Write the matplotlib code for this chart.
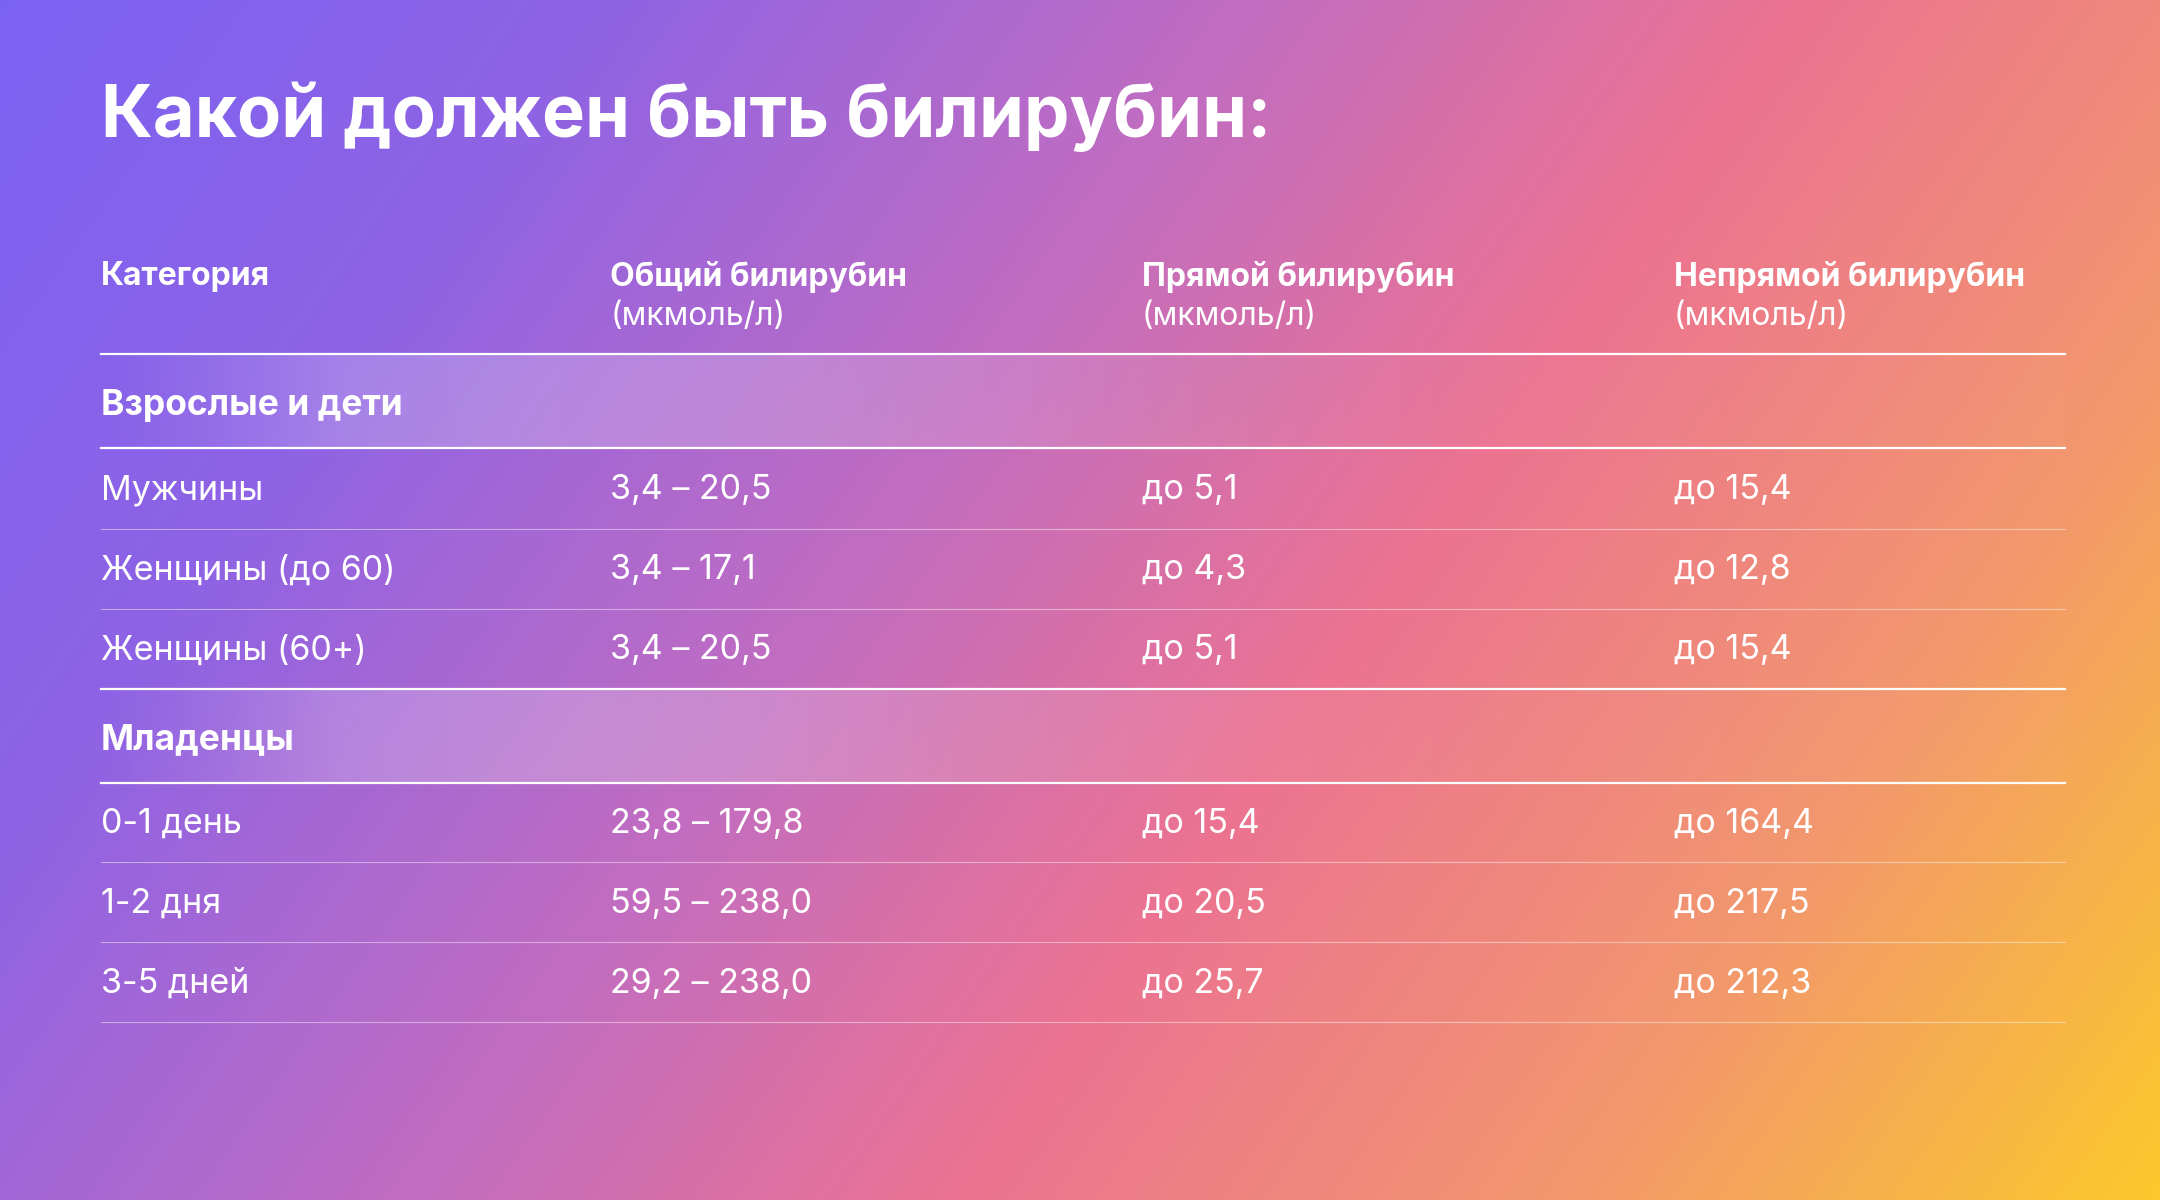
import numpy as np
import matplotlib
matplotlib.use("Agg")
import matplotlib.pyplot as plt
from matplotlib.colors import LinearSegmentedColormap

title = "Какой должен быть билирубин:"
headers = ["Категория", "Общий билирубин\n(мкмоль/л)", "Прямой билирубин\n(мкмоль/л)", "Непрямой билирубин\n(мкмоль/л)"]
section1 = "Взрослые и дети"
rows1 = [["Мужчины", "3,4 – 20,5", "до 5,1", "до 15,4"],
         ["Женщины (до 60)", "3,4 – 17,1", "до 4,3", "до 12,8"],
         ["Женщины (60+)", "3,4 – 20,5", "до 5,1", "до 15,4"]]
section2 = "Младенцы"
rows2 = [["0-1 день", "23,8 – 179,8", "до 15,4", "до 164,4"],
         ["1-2 дня", "59,5 – 238,0", "до 20,5", "до 217,5"],
         ["3-5 дней", "29,2 – 238,0", "до 25,7", "до 212,3"]]

W, H = 1568, 871
fig = plt.figure(figsize=(21.6, 12), dpi=100)
ax = fig.add_axes([0, 0, 1, 1])
ax.set_xlim(0, W); ax.set_ylim(H, 0); ax.axis("off")

yy, xx = np.mgrid[0:H:2, 0:W:2]
t = (xx / W) * 0.72 + (yy / H) * 0.28
cmap = LinearSegmentedColormap.from_list("bg", [(0, "#7B62F3"), (0.2, "#8F63E4"), (0.42, "#C26DC0"),
                                               (0.6, "#EC7391"), (0.8, "#F2976E"), (1.0, "#FCC82C")])
ax.imshow(t, cmap=cmap, extent=[0, W, H, 0], aspect="auto", zorder=0, vmin=0, vmax=1)

def band(y0, y1):
    g = np.zeros((2, 400, 4))
    x = np.linspace(0, 1, 400)
    a = np.exp(-((x - 0.22) / 0.3) ** 2) * 0.2 + 0.02
    a *= np.clip(x / 0.12, 0, 1)
    g[..., :3] = 1; g[..., 3] = a
    ax.imshow(g, extent=[73, 1499, y1, y0], aspect="auto", zorder=1)
band(258, 325)
band(501, 568)

font = "Inter"
ax.text(73, 85, title, fontsize=52, fontweight="bold", color="white", family=font, va="center")

cols = [73, 443, 829, 1215]
for x, h in zip(cols, headers):
    lines = h.split("\n")
    ax.text(x, 201, lines[0], fontsize=23, fontweight="bold", color="white", family=font, va="center")
    if len(lines) > 1:
        ax.text(x, 230, lines[1], fontsize=23, color="white", family=font, va="center")

def hline(y, lw, a):
    ax.plot([73, 1499], [y, y], color="white", lw=lw, alpha=a, zorder=2)

hline(257, 1.6, 1)
ax.text(73, 294, section1, fontsize=25.5, fontweight="bold", color="white", family=font, va="center")
hline(325, 1.6, 1)
for i, r in enumerate(rows1):
    y = 356 + 58 * i
    for x, v in zip(cols, r):
        ax.text(x, y, v, fontsize=24.5, color="white", family=font, va="center")
    hline(y + 28, 1.6 if i == 2 else 0.8, 1 if i == 2 else 0.45)
ax.text(73, 537, section2, fontsize=25.5, fontweight="bold", color="white", family=font, va="center")
hline(568, 1.6, 1)
for i, r in enumerate(rows2):
    y = 598 + 58 * i
    for x, v in zip(cols, r):
        ax.text(x, y, v, fontsize=24.5, color="white", family=font, va="center")
    hline(y + 28, 0.8, 0.45)

fig.savefig("out.png", dpi=100)
